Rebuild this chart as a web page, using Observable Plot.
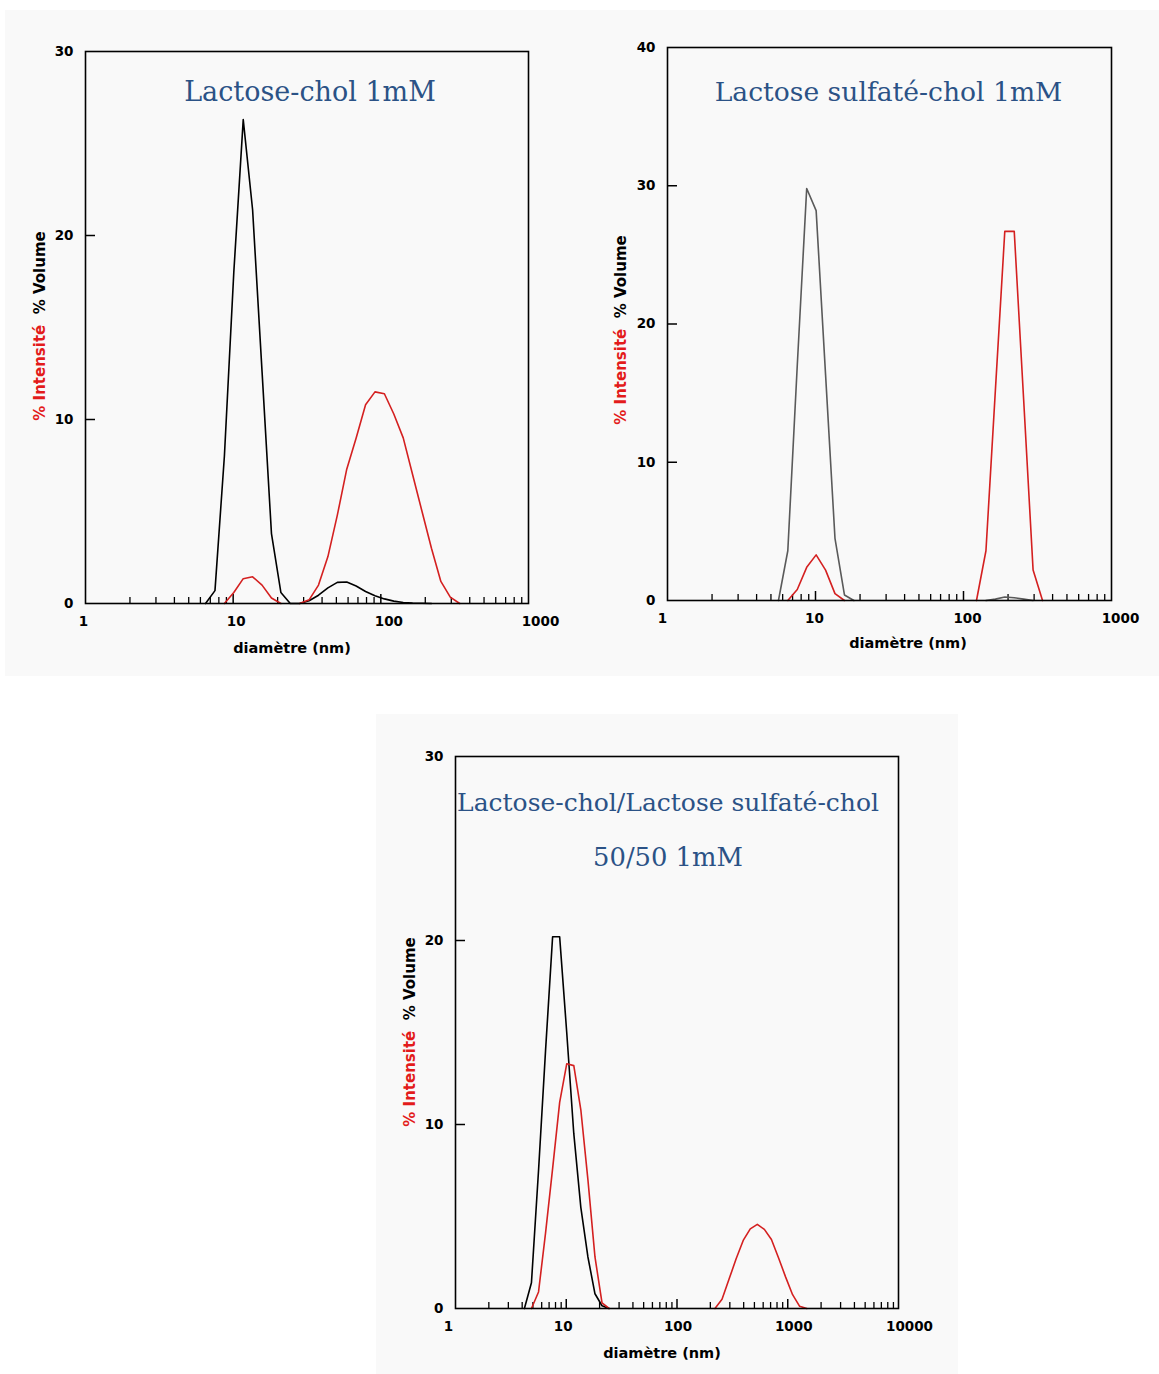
<!DOCTYPE html>
<html>
<head>
<meta charset="utf-8">
<script src="https://cdn.jsdelivr.net/npm/d3@7"></script>
<script src="https://cdn.jsdelivr.net/npm/@observablehq/plot@0.6"></script>
<style>
  html, body { margin: 0; padding: 0; background: #ffffff; }
  #page { position: relative; width: 1159px; height: 1374px; overflow: hidden; background: #ffffff; }
  .bg { position: absolute; background: #f9f9f9; }
  .plot { position: absolute; }
  .xt { position: absolute; font-family: "DejaVu Sans", sans-serif; font-weight: bold; font-size: 14.5px; color: #000; white-space: nowrap; transform: translate(-50%, -50%); }
  .yt { position: absolute; font-family: "DejaVu Sans", sans-serif; font-weight: bold; font-size: 15px; white-space: nowrap; transform: translate(-50%, -50%) rotate(-90deg); }
  .yt .r { color: #e31b1b; }
  .yt .k { color: #000; }
</style>
</head>
<body>
<div id="page">
  <div class="bg" style="left:5px;top:10px;width:1154px;height:666px"></div>
  <div class="bg" style="left:376px;top:714px;width:582px;height:660px"></div>
</div>
<script>
// ---------------- DATA ----------------
// Panel 1 : Lactose-chol 1mM
const title1 = ["Lactose-chol 1mM"];
const diam1 = [6.50,7.53,8.72,10.10,11.70,13.54,15.69,18.17,21.04,24.36,28.21,32.67,37.84,43.82,50.75,58.77,68.06,78.82,91.28,105.7,122.4,141.8,164.2,190.1,220.2,255.0,295.3,342.0];
const intensity1 = [null,null,0,0.6,1.35,1.45,1.0,0.3,0,null,0,0.2,1.0,2.55,4.8,7.3,9.0,10.8,11.5,11.4,10.3,9.0,7.0,5.0,3.0,1.2,0.35,0];
const volume1 = [0,0.7,8,18,26.3,21.4,12.6,3.8,0.6,0,0,0.15,0.45,0.85,1.15,1.17,0.95,0.65,0.42,0.25,0.13,0.05,0.02,0.01,0,null,null,null];
const yTicks1 = [0,10,20,30];
const xLabels1 = [1,10,100,1000];

// Panel 2 : Lactose sulfaté-chol 1mM
const title2 = ["Lactose sulfaté-chol 1mM"];
const diam2 = [5.62,6.50,7.53,8.72,10.10,11.70,13.54,15.69,18.17,21.04,24.36,28.21,32.67,37.84,43.82,50.75,58.77,68.06,78.82,91.28,105.7,122.4,141.8,164.2,190.1,220.2,255.0,295.3,342.0];
const intensity2 = [null,0,0.8,2.4,3.3,2.2,0.5,0,null,null,null,null,null,null,null,null,null,null,null,null,null,0,3.6,15.2,26.7,26.7,14.5,2.2,0];
const volume2 = [0,3.6,17,29.8,28.2,16.3,4.5,0.4,0,null,null,null,null,null,null,null,null,null,null,null,null,null,0,0.1,0.25,0.2,0.1,0,null];
const yTicks2 = [0,10,20,30,40];
const xLabels2 = [1,10,100,1000];

// Panel 3 : Lactose-chol/Lactose sulfaté-chol 50/50 1mM
const title3 = ["Lactose-chol/Lactose sulfaté-chol", "50/50 1mM"];
const diam3 = [4.19,4.85,5.62,6.50,7.53,8.72,10.10,11.70,13.54,15.69,18.17,21.04,24.36,28.21,32.67,37.84,43.82,50.75,58.77,68.06,78.82,91.28,105.7,122.4,141.8,164.2,190.1,220.2,255.0,295.3,342.0,396.1,458.7,531.2,615.1,712.4,825.0,955.4,1106,1281,1484];
const intensity3 = [null,0,0.9,4.1,7.6,11.2,13.3,13.2,10.8,7.0,2.8,0.3,0,null,null,null,null,null,null,null,null,null,null,null,null,null,null,0,0.5,1.6,2.7,3.7,4.33,4.57,4.3,3.75,2.76,1.72,0.75,0.12,0];
const volume3 = [0,1.4,7.5,14,20.2,20.2,15,9.5,5.5,2.8,0.8,0.15,0,null,null,null,null,null,null,null,null,null,null,null,null,null,null,null,null,null,null,null,null,null,null,null,null,null,null,null,null];
const yTicks3 = [0,10,20,30];
const xLabels3 = [1,10,100,1000,10000];

const xTitle = "diamètre (nm)";
const yTitleIntensity = "% Intensité";
const yTitleVolume = "% Volume";

// ---------------- DRAWING ----------------
const RED = "#d42020";
const TITLE = "#2b5286";

function minorTicks(maxDecade) {
  const t = [];
  for (let e = 0; e < maxDecade; e++) for (let m = 2; m <= 9; m++) t.push(m * 10 ** e);
  return t;
}

function panel(cfg) {
  const rows = cfg.diam.map((d, k) => ({d, inten: cfg.intensity[k], vol: cfg.volume[k]}));
  const decades = Math.round(Math.log10(cfg.xDomain[1]));
  const major = [];
  for (let e = 1; e < decades; e++) major.push(10 ** e);
  const inner = cfg.yTicks.filter(v => v > 0 && v < cfg.yDomain[1]);
  const marks = [
    Plot.axisY(cfg.yTicks, {anchor: "left", tickSize: 0, tickPadding: 12, label: null, fontWeight: "bold", fontSize: 13.5}),
    Plot.axisY(inner, {anchor: "left", tickSize: -10, fill: "none", label: null, strokeWidth: 1.5}),
    Plot.axisX(minorTicks(decades), {anchor: "bottom", tickSize: -6, fill: "none", label: null, strokeWidth: 1.3}),
    Plot.axisX(major, {anchor: "bottom", tickSize: -9, fill: "none", label: null, strokeWidth: 1.5}),
    ...cfg.xLabels.map((t, k) => Plot.axisX([t], {anchor: "bottom", tickSize: 0, tickPadding: 13, dx: cfg.xLabelDx[k], tickFormat: d => String(d), label: null, fontWeight: "bold", fontSize: 13.5})),
    Plot.line(rows, {x: "d", y: "vol", stroke: cfg.volColor, strokeWidth: 1.6}),
    Plot.line(rows, {x: "d", y: "inten", stroke: RED, strokeWidth: 1.6}),
    Plot.frame({stroke: "black", strokeWidth: 1.6}),
    ...cfg.title.map((line, k) => Plot.text([line], {text: d => d, frameAnchor: "top", dy: cfg.titleDy[k], dx: cfg.titleDx, lineAnchor: "middle", fontSize: cfg.titleSize[k], fontFamily: "DejaVu Serif, serif", fontWeight: "normal", fill: TITLE}))
  ];
  const svg = Plot.plot({
    width: cfg.width, height: cfg.height,
    marginLeft: cfg.mL, marginRight: cfg.mR, marginTop: cfg.mT, marginBottom: cfg.mB,
    x: {type: "log", domain: cfg.xDomain},
    y: {domain: cfg.yDomain},
    style: {fontFamily: "DejaVu Sans, sans-serif", fontSize: "13.5px", fontWeight: "bold", background: "transparent", overflow: "visible", color: "black"},
    marks
  });
  svg.classList.add("plot");
  svg.style.left = cfg.left + "px";
  svg.style.top = cfg.top + "px";
  const page = document.getElementById("page");
  page.appendChild(svg);
  const xt = document.createElement("div");
  xt.className = "xt"; xt.textContent = xTitle;
  xt.style.left = cfg.xTitlePos[0] + "px"; xt.style.top = cfg.xTitlePos[1] + "px";
  page.appendChild(xt);
  const yt = document.createElement("div");
  yt.className = "yt";
  yt.innerHTML = `<span class="r"></span>&nbsp; <span class="k"></span>`;
  yt.querySelector(".r").textContent = yTitleIntensity;
  yt.querySelector(".k").textContent = yTitleVolume;
  yt.style.left = cfg.yTitlePos[0] + "px"; yt.style.top = cfg.yTitlePos[1] + "px";
  page.appendChild(yt);
}

panel({
  left: 5, top: 10, width: 575, height: 666, mL: 80, mR: 52, mT: 41, mB: 73,
  xDomain: [1, 1000], yDomain: [0, 30], yTicks: yTicks1,
  xLabels: xLabels1, xLabelDx: [-2, 3, 8, 12],
  diam: diam1, intensity: intensity1, volume: volume1, volColor: "#000000",
  title: title1, titleDy: [41], titleDx: 3, titleSize: [27],
  xTitlePos: [292, 648], yTitlePos: [40, 326]
});
panel({
  left: 580, top: 10, width: 579, height: 666, mL: 87, mR: 48, mT: 37, mB: 76,
  xDomain: [1, 1000], yDomain: [0, 40], yTicks: yTicks2,
  xLabels: xLabels2, xLabelDx: [-5, -1, 4, 9],
  diam: diam2, intensity: intensity2, volume: volume2, volColor: "#5a5a5a",
  title: title2, titleDy: [45], titleDx: -1, titleSize: [26.6],
  xTitlePos: [908, 643], yTitlePos: [621, 330]
});
panel({
  left: 376, top: 714, width: 582, height: 660, mL: 79, mR: 60, mT: 42, mB: 66,
  xDomain: [1, 10000], yDomain: [0, 30], yTicks: yTicks3,
  xLabels: xLabels3, xLabelDx: [-7, -3, 1, 6, 11],
  diam: diam3, intensity: intensity3, volume: volume3, volColor: "#000000",
  title: title3, titleDy: [46, 101], titleDx: -9, titleSize: [25, 25.8],
  xTitlePos: [662, 1353], yTitlePos: [410, 1032]
});
</script>
</body>
</html>
